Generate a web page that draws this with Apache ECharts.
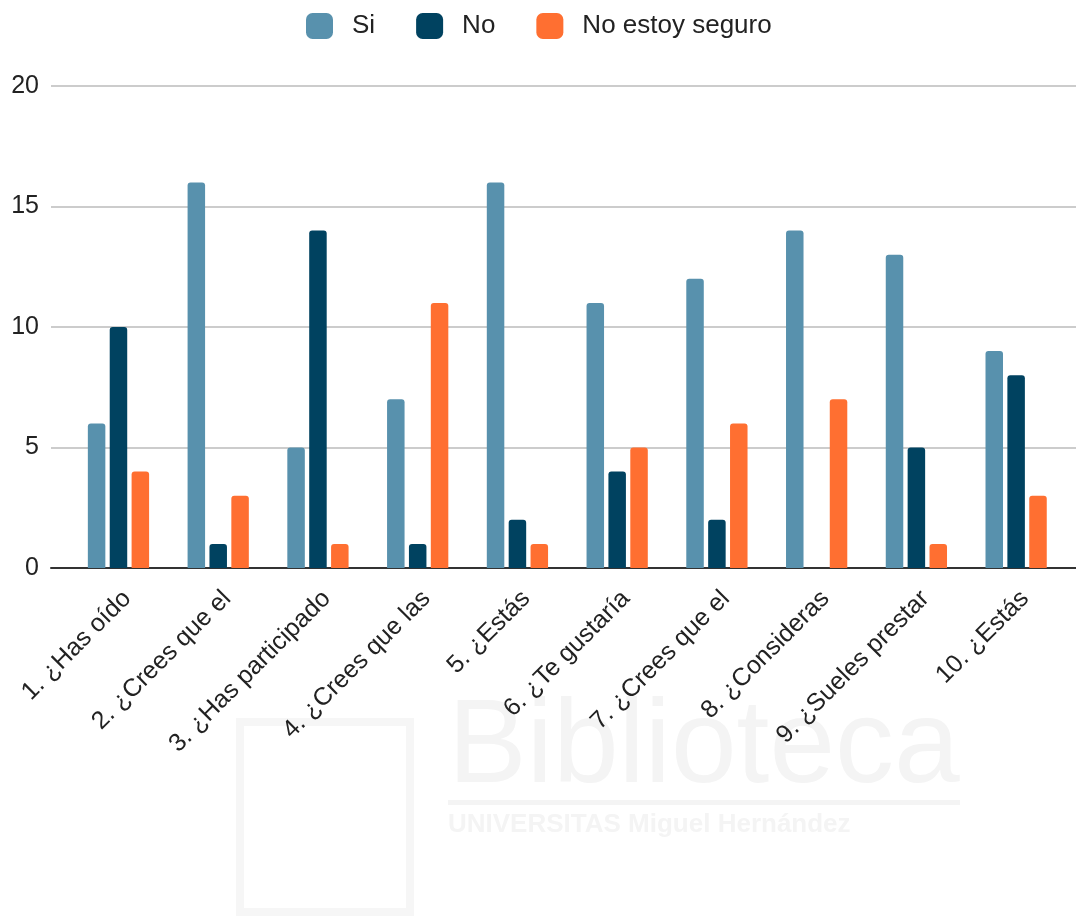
<!DOCTYPE html>
<html>
<head>
<meta charset="utf-8">
<script src="https://cdn.jsdelivr.net/npm/echarts@6/dist/echarts.min.js"></script>
<style>
html,body{margin:0;padding:0;background:#fff;}
#c{width:1076px;height:920px;}
</style>
</head>
<body>
<div id="c"></div>
<script>
const categories = ['1. ¿Has oído','2. ¿Crees que el','3. ¿Has participado','4. ¿Crees que las','5. ¿Estás','6. ¿Te gustaría','7. ¿Crees que el','8. ¿Consideras','9. ¿Sueles prestar','10. ¿Estás'];
const siValues = [6,16,5,7,16,11,12,14,13,9];
const noValues = [10,1,14,1,2,4,2,0,5,8];
const noSeguroValues = [4,3,1,11,1,5,6,7,1,3];
const seriesNames = ['Si','No','No estoy seguro'];
const colors = ['#5891ad','#004260','#ff6f31'];
const yTicks = {min:0, max:20, interval:5};

const chart = echarts.init(document.getElementById('c'));
const font = 'Liberation Sans, Arial, sans-serif';
const barStyle = (i) => ({color: colors[i], borderRadius:[3,3,0,0]});
chart.setOption({
  animation:false,
  textStyle:{fontFamily:font},
  legend:{
    top:13, left:306, padding:0, itemWidth:27, itemHeight:26, itemGap:41,
    icon:'roundRect',
    textStyle:{fontSize:26, color:'#222', fontFamily:font, padding:[0,0,0,14]},
    data: seriesNames
  },
  graphic:[
    {type:'text', left:448, top:690, silent:true, z:-10,
     style:{text:'Biblioteca', fontSize:118, fontFamily:font, fill:'#f4f4f4'}},
    {type:'rect', silent:true, z:-10, shape:{x:448,y:800,width:512,height:5}, style:{fill:'#f4f4f4'}},
    {type:'text', left:448, top:812, silent:true, z:-10,
     style:{text:'UNIVERSITAS Miguel Hernández', fontSize:26, fontWeight:'bold', fontFamily:font, fill:'#f4f4f4'}},
    {type:'rect', silent:true, z:-10, shape:{x:240,y:722,width:170,height:190}, style:{fill:'none', stroke:'#f6f6f6', lineWidth:8}}
  ],
  grid:[
    {left:68.6, right:10, top:86, bottom:352},
    {left:51, right:0, top:86, bottom:352}
  ],
  xAxis:[
    {type:'category', gridIndex:0, data:categories,
     axisLine:{show:false}, axisTick:{show:false},
     axisLabel:{rotate:45, fontSize:25, color:'#222', margin:18, interval:0, fontFamily:font, verticalAlign:'top'}},
    {type:'category', gridIndex:1, data:[''],
     axisLine:{show:true, lineStyle:{color:'#333', width:2}}, axisTick:{show:false}, axisLabel:{show:false}}
  ],
  yAxis:[
    {type:'value', gridIndex:0, min:yTicks.min, max:yTicks.max, interval:yTicks.interval,
     axisLabel:{show:false}, splitLine:{show:false}, axisLine:{show:false}, axisTick:{show:false}},
    {type:'value', gridIndex:1, min:yTicks.min, max:yTicks.max, interval:yTicks.interval,
     axisLabel:{fontSize:25, color:'#222', margin:12, fontFamily:font},
     splitLine:{lineStyle:{color:'#cccccc', width:2}}, axisLine:{show:false}, axisTick:{show:false}}
  ],
  series:[
    {name:seriesNames[0], type:'bar', xAxisIndex:0, yAxisIndex:0, data:siValues, barWidth:17.5, barGap:'25%', itemStyle:barStyle(0), z:5},
    {name:seriesNames[1], type:'bar', xAxisIndex:0, yAxisIndex:0, data:noValues, barWidth:17.5, barGap:'25%', itemStyle:barStyle(1), z:5},
    {name:seriesNames[2], type:'bar', xAxisIndex:0, yAxisIndex:0, data:noSeguroValues, barWidth:17.5, barGap:'25%', itemStyle:barStyle(2), z:5}
  ]
});
</script>
</body>
</html>
